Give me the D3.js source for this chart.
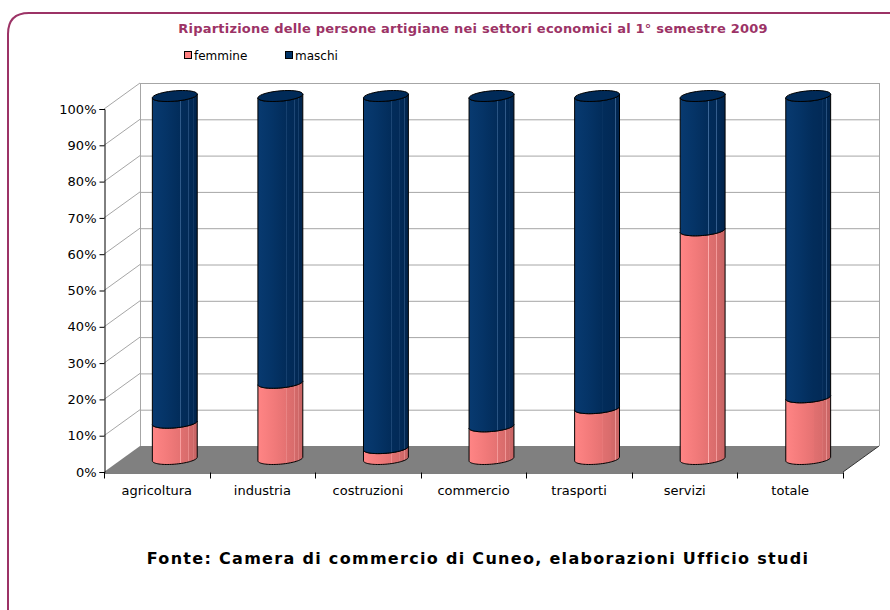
<!DOCTYPE html>
<html>
<head>
<meta charset="utf-8">
<script src="https://cdn.jsdelivr.net/npm/d3@7"></script>
<style>
  body { margin: 0; background: #fff; }
  svg { display: block; font-family: "DejaVu Sans", Verdana, sans-serif; }
</style>
</head>
<body>
<svg id="chart" width="890" height="610"></svg>
<script>
// data (percent shares)
let categories = ['agricoltura', 'industria', 'costruzioni', 'commercio', 'trasporti', 'servizi', 'totale'];
let femmine = [10, 21, 3, 9, 14, 63, 17];
let maschi = [90, 79, 97, 91, 86, 37, 83];
let yTicks = [0, 10, 20, 30, 40, 50, 60, 70, 80, 90, 100];
let seriesNames = ['femmine', 'maschi'];

let svg = d3.select('#chart');

// frame
svg.append('path')
  .attr('d', 'M8,640 L8,34 Q8,13 29,13 L900,13')
  .attr('fill', 'none')
  .attr('stroke', '#9c3366')
  .attr('stroke-width', 2);

// title + legend
svg.append('text')
  .attr('x', 473).attr('y', 33)
  .attr('text-anchor', 'middle')
  .attr('font-size', 13).attr('font-weight', 'bold')
  .attr('letter-spacing', 0.2)
  .attr('fill', '#9c3366')
  .text('Ripartizione delle persone artigiane nei settori economici al 1° semestre 2009');

let legendColors = ['#ff8080', '#003366'];
let legendX = [184, 285];
seriesNames.forEach(function(name, i) {
  svg.append('rect')
    .attr('x', legendX[i] + 0.5).attr('y', 51.5)
    .attr('width', 7).attr('height', 7)
    .attr('fill', legendColors[i]).attr('stroke', '#000');
  svg.append('text')
    .attr('x', legendX[i] + 10).attr('y', 59.5)
    .attr('font-size', 12)
    .text(name);
});

// geometry of the 3d box
let plotL = 104, plotR = 843, plotB = 472, plotT = 109;
let depthX = 36, depthY = -26;

let x = d3.scaleBand().domain(categories).range([plotL, plotR]);
let y = d3.scaleLinear().domain([0, 100]).range([plotB, plotT]);

let g = svg.append('g');

// floor
g.append('path')
  .attr('d', 'M' + plotL + ',' + plotB + 'L' + (plotL + depthX) + ',' + (plotB + depthY) +
    'L' + (plotR + depthX) + ',' + (plotB + depthY) + 'L' + plotR + ',' + plotB + 'Z')
  .attr('fill', '#808080');
g.append('line')
  .attr('x1', plotR).attr('y1', plotB)
  .attr('x2', plotR + depthX).attr('y2', plotB + depthY)
  .attr('stroke', '#333');

// back wall + grid
g.selectAll('.grid').data(yTicks.filter(d => d > 0)).enter().append('line')
  .attr('x1', plotL + depthX).attr('x2', plotR + depthX)
  .attr('y1', d => y(d) + depthY + 0.5).attr('y2', d => y(d) + depthY + 0.5)
  .attr('stroke', '#a6a6a6');
g.append('line')
  .attr('x1', plotL + depthX + 0.5).attr('x2', plotL + depthX + 0.5)
  .attr('y1', y(100) + depthY).attr('y2', plotB + depthY)
  .attr('stroke', '#a6a6a6');
g.append('line')
  .attr('x1', plotR + depthX + 0.5).attr('x2', plotR + depthX + 0.5)
  .attr('y1', y(100) + depthY).attr('y2', plotB + depthY)
  .attr('stroke', '#a6a6a6');

// side wall diagonals
g.selectAll('.diag').data(yTicks.filter(d => d > 0)).enter().append('line')
  .attr('x1', plotL).attr('y1', d => y(d))
  .attr('x2', plotL + depthX).attr('y2', d => y(d) + depthY)
  .attr('stroke', '#a6a6a6');

// axes
let yAxis = d3.axisLeft(y).tickValues(yTicks).tickSize(5).tickPadding(3)
  .tickFormat(d => d + '%');
let ya = g.append('g').attr('transform', 'translate(' + (plotL + 0.5) + ',0)').call(yAxis);
ya.selectAll('text').attr('font-size', 13).attr('font-family', 'DejaVu Sans').attr('fill', '#000');
ya.select('.domain').attr('stroke', '#000');

let xa = g.append('g').attr('transform', 'translate(0,' + (plotB + 0.5) + ')')
  .call(d3.axisBottom(x).tickSize(0).tickPadding(13));
xa.selectAll('text').attr('font-size', 13).attr('font-family', 'DejaVu Sans').attr('fill', '#000');
xa.select('.domain').attr('stroke', '#000');
let bounds = categories.map(c => x(c)).concat([plotR]);
xa.selectAll('.bound').data(bounds).enter().append('line')
  .attr('x1', d => Math.round(d) + 0.5).attr('x2', d => Math.round(d) + 0.5)
  .attr('y1', 0).attr('y2', 6)
  .attr('stroke', '#000');

// gradients
let defs = svg.append('defs');
function grad(id, stops) {
  let lg = defs.append('linearGradient').attr('id', id)
    .attr('x1', '0%').attr('x2', '100%').attr('y1', '0%').attr('y2', '0%');
  stops.forEach(function(s) {
    lg.append('stop').attr('offset', s[0]).attr('stop-color', s[1]);
  });
}
grad('gM', [['0%', '#083a70'], ['30%', '#053467'], ['62%', '#022c5a'], ['63%', '#3f6a9a'], ['64%', '#022c5a'],
  ['80%', '#022a57'], ['81%', '#3a6494'], ['82%', '#022a57'], ['90%', '#012853'], ['91%', '#335d8c'], ['92%', '#012650'], ['100%', '#01244c']]);
grad('gF', [['0%', '#ff8585'], ['35%', '#f27a7a'], ['62%', '#e57272'], ['63%', '#ffb0b0'], ['64%', '#e07070'],
  ['80%', '#d96c6c'], ['81%', '#f7a0a0'], ['82%', '#d46a6a'], ['90%', '#cf6868'], ['91%', '#f09a9a'], ['92%', '#cc6666'], ['100%', '#c86464']]);

// cylinders
let R = x.bandwidth() * 0.2;
let kx = 7.6, ky = 5.5;
let thR = Math.atan2(kx, R);

function pt(cx, v, th) {
  return [cx + R * Math.cos(th) + kx * Math.sin(th), y(v) + depthY / 2 - ky * Math.sin(th)];
}
function arc(cx, v, a0, a1) {
  let pts = [];
  for (let i = 0; i <= 40; i++) pts.push(pt(cx, v, a0 + (a1 - a0) * i / 40));
  return pts;
}

let stacks = categories.map(function(c, i) {
  return [{s: 0, e: femmine[i], fill: 'url(#gF)'}, {s: femmine[i], e: femmine[i] + maschi[i], fill: 'url(#gM)'}];
});

let line = d3.line();
categories.forEach(function(c, i) {
  let cx = x(c) + x.bandwidth() / 2 + depthX / 2;
  stacks[i].forEach(function(seg, j) {
    let pts = [pt(cx, seg.s, thR + Math.PI)]
      .concat(arc(cx, seg.e, thR + Math.PI, thR + 2 * Math.PI))
      .concat(arc(cx, seg.s, thR, thR - Math.PI));
    g.append('path')
      .attr('d', line(pts) + 'Z')
      .attr('fill', seg.fill)
      .attr('stroke', '#000').attr('stroke-width', 1).attr('stroke-linejoin', 'round');
    if (j === stacks[i].length - 1) {
      g.append('path')
        .attr('d', line(arc(cx, seg.e, 0, 2 * Math.PI)) + 'Z')
        .attr('fill', '#002a58')
        .attr('stroke', '#000').attr('stroke-width', 1);
    }
  });
});

// source
svg.append('text')
  .attr('x', 478).attr('y', 564)
  .attr('text-anchor', 'middle')
  .attr('font-size', 16).attr('font-weight', 'bold')
  .attr('letter-spacing', 1.3)
  .text('Fonte: Camera di commercio di Cuneo, elaborazioni Ufficio studi');
</script>
</body>
</html>
